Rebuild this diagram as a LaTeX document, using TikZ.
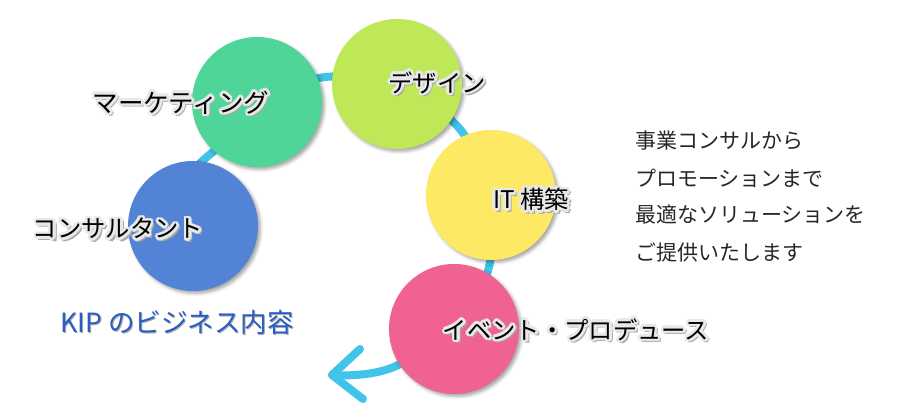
\documentclass[tikz,border=0pt]{standalone}
\usepackage{fontspec}
\setmainfont{Noto Sans CJK JP}
\usetikzlibrary{shadows.blur}
\definecolor{flowc}{RGB}{64,196,233}
\definecolor{mkc}{RGB}{79,213,151}
\definecolor{dsc}{RGB}{190,232,88}
\definecolor{itc}{RGB}{254,233,100}
\definecolor{evc}{RGB}{240,98,146}
\definecolor{csc}{RGB}{82,131,213}
\definecolor{kipc}{RGB}{42,92,197}
\definecolor{haloc}{RGB}{232,232,232}
\definecolor{shc}{RGB}{170,170,170}
\newcommand\hb[4]{\rlap{\hspace*{#1}\raisebox{#2}{\textcolor{#3}{#4}}}}
\newcommand\halo[1]{%
\hb{3.2pt}{-3.2pt}{shc}{#1}\hb{3.6pt}{-1.2pt}{shc}{#1}\hb{1.2pt}{-3.6pt}{shc}{#1}%
\hb{2.6pt}{0pt}{haloc}{#1}\hb{-2.6pt}{0pt}{haloc}{#1}\hb{0pt}{2.6pt}{haloc}{#1}\hb{0pt}{-2.6pt}{haloc}{#1}%
\hb{1.9pt}{1.9pt}{haloc}{#1}\hb{-1.9pt}{1.9pt}{haloc}{#1}\hb{1.9pt}{-1.9pt}{haloc}{#1}\hb{-1.9pt}{-1.9pt}{haloc}{#1}%
\hb{2.4pt}{1pt}{haloc}{#1}\hb{-2.4pt}{1pt}{haloc}{#1}\hb{2.4pt}{-1pt}{haloc}{#1}\hb{-2.4pt}{-1pt}{haloc}{#1}%
\hb{1pt}{2.4pt}{haloc}{#1}\hb{-1pt}{2.4pt}{haloc}{#1}\hb{1pt}{-2.4pt}{haloc}{#1}\hb{-1pt}{-2.4pt}{haloc}{#1}%
#1}
\begin{document}
\begin{tikzpicture}[x=1pt,y=-1pt,
  bubble/.style={circle, minimum size=130pt, inner sep=0pt,
    blur shadow={shadow xshift=2.5pt, shadow yshift=-2.5pt, shadow blur radius=3pt, shadow opacity=35}},
  flow/.style={draw=flowc, line width=8pt, line cap=round, line join=round},
  tag/.style={font=\fontsize{24.3}{27}\selectfont, text=black, inner sep=0pt},
  note/.style={font=\fontsize{21}{25}\selectfont, text=black!85, anchor=west, inner sep=0pt}]
\useasboundingbox (0,0) rectangle (900,420);
% connector curve (behind circles)
\coordinate (c0) at (185,190);
\coordinate (c1) at (208,156);
\coordinate (c2) at (325,77);
\coordinate (c3) at (459,128);
\coordinate (c4) at (489,267);
\coordinate (c5) at (405,361);
\coordinate (c6) at (332,375);
\coordinate (h1) at (360,349);
\coordinate (h2) at (363,399);
\draw[flow] plot[smooth, tension=0.6] coordinates {(c0) (c1) (c2) (c3) (c4) (c5) (c6)};
\draw[flow] (h1) -- (c6) -- (h2);
% circles
\node[bubble, fill=csc] (cs) at (193,226) {};
\node[bubble, fill=mkc] (mk) at (257,102) {};
\node[bubble, fill=dsc] (ds) at (397,84) {};
\node[bubble, fill=itc] (it) at (491,195) {};
\node[bubble, fill=evc] (ev) at (454,329) {};
% labels
\node[tag, font=\fontsize{25.5}{28}\selectfont] (lmk) at (181,103) {\halo{マーケティング}};
\node[tag] (lds) at (437,83) {\halo{デザイン}};
\node[tag] (lit) at (531,200) {\halo{IT 構築}};
\node[tag] (lev) at (576,330) {\halo{イベント・プロデュース}};
\node[tag] (lcs) at (118,229) {\halo{コンサルタント}};
\node[font=\fontsize{26.5}{29}\selectfont, text=kipc, inner sep=0pt] (kip) at (177,323) {\hb{1pt}{-1.2pt}{shc}{KIP のビジネス内容}KIP のビジネス内容};
% description
\node[note] (n1) at (635,141) {事業コンサルから};
\node[note] (n2) at (635,178) {プロモーションまで};
\node[note] (n3) at (635,215) {最適なソリューションを};
\node[note] (n4) at (635,252) {ご提供いたします};
\end{tikzpicture}
\end{document}
